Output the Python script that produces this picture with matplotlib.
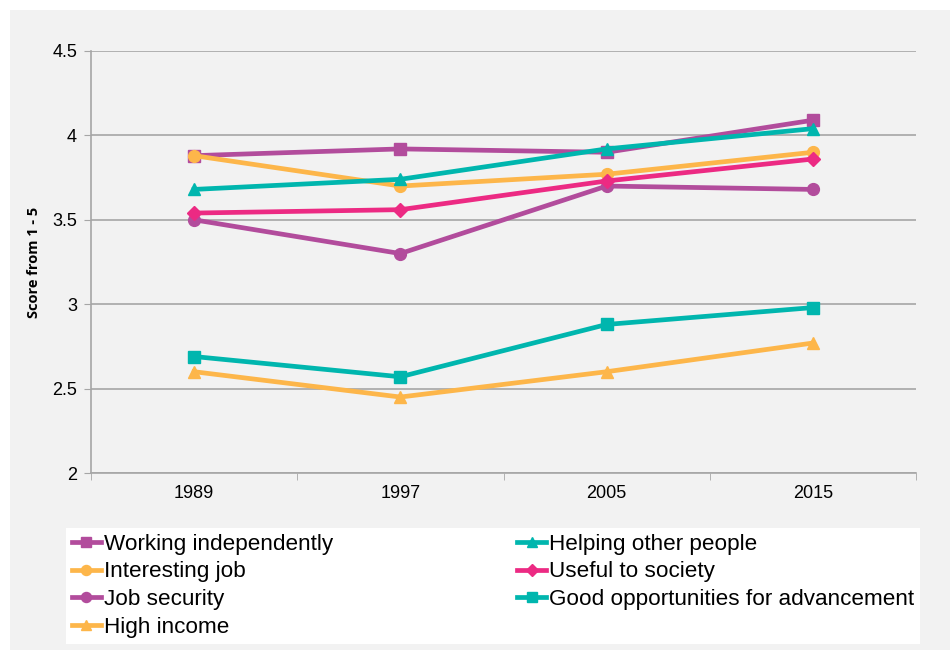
import matplotlib.pyplot as plt
from matplotlib.patches import Rectangle

years = ['1989', '1997', '2005', '2015']
working_independently = [3.88, 3.92, 3.90, 4.09]
helping_other_people = [3.68, 3.74, 3.92, 4.04]
interesting_job = [3.88, 3.70, 3.77, 3.90]
useful_to_society = [3.54, 3.56, 3.73, 3.86]
job_security = [3.50, 3.30, 3.70, 3.68]
good_opportunities = [2.69, 2.57, 2.88, 2.98]
high_income = [2.60, 2.45, 2.60, 2.77]

purple = '#B24C9C'
orange = '#FDB64A'
teal = '#00B6AE'
pink = '#EC2A83'
grid_c = '#A6A6A6'

plt.rcParams['font.family'] = ['Liberation Sans', 'DejaVu Sans']

fig = plt.figure(figsize=(9.5, 6.5), dpi=100, facecolor='white')
fig.patches.append(Rectangle((10 / 950, 0), 1, 1 - 10 / 650, transform=fig.transFigure,
                             facecolor='#F2F2F2', edgecolor='none', zorder=-5))
ax = fig.add_axes([91 / 950, 1 - 473 / 650, 825 / 950, 422 / 650])
ax.set_facecolor('#F2F2F2')

x = list(range(len(years)))
series = [
    ('Working independently', working_independently, purple, 's'),
    ('Interesting job', interesting_job, orange, 'o'),
    ('Job security', job_security, purple, 'o'),
    ('High income', high_income, orange, '^'),
    ('Helping other people', helping_other_people, teal, '^'),
    ('Useful to society', useful_to_society, pink, 'D'),
    ('Good opportunities for advancement', good_opportunities, teal, 's'),
]
draw_order = [6, 3, 2, 5, 1, 4, 0]
lines = {}
for i in draw_order:
    name, vals, col, mk = series[i]
    ms = 7 if mk == 'D' else 8.5
    ln, = ax.plot(x, vals, color=col, marker=mk, linewidth=3.4,
                  markersize=ms, label=name, zorder=3 + i * 0.01)
    lines[i] = ln

ax.set_xlim(-0.5, 3.5)
ax.set_ylim(2, 4.5)
ax.set_yticks([2, 2.5, 3, 3.5, 4, 4.5])
ax.set_yticklabels(['2', '2.5', '3', '3.5', '4', '4.5'])
ax.set_xticks(x)
ax.set_xticklabels(years)
ax.set_xticks([-0.5, 0.5, 1.5, 2.5, 3.5], minor=True)
ax.tick_params(axis='x', which='major', length=0, pad=9, labelsize=13)
ax.tick_params(axis='x', which='minor', length=5, color=grid_c, direction='out')
ax.tick_params(axis='y', length=5, color=grid_c, labelsize=13, pad=5)
ax.grid(axis='y', color=grid_c, linewidth=1.2)
ax.set_axisbelow(True)
for s in ['top', 'right']:
    ax.spines[s].set_visible(False)
for s in ['left', 'bottom']:
    ax.spines[s].set_color(grid_c)
    ax.spines[s].set_linewidth(1.2)
ax.set_ylabel('Score from 1 - 5', family=['Open Sans', 'DejaVu Sans'],
              fontweight='bold', fontsize=10.5, labelpad=8)

leg = fig.legend([lines[i] for i in range(7)], [s[0] for s in series], ncol=2,
                 loc='upper left', bbox_to_anchor=(66 / 950, 1 - 528 / 650),
                 frameon=True, fancybox=False, framealpha=1, fontsize=16.2,
                 handlelength=1.3, handletextpad=0.12, columnspacing=8.2,
                 labelspacing=0.3, borderpad=0.25, borderaxespad=0, markerscale=0.85)
leg.get_frame().set_facecolor('white')
leg.get_frame().set_edgecolor('none')

fig.savefig('out.png', dpi=100, facecolor=fig.get_facecolor())
